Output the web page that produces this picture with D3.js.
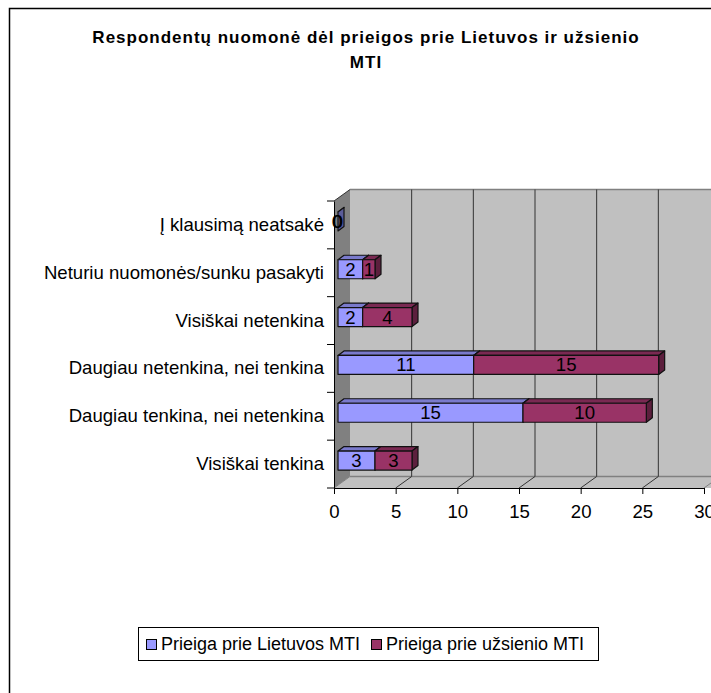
<!DOCTYPE html>
<html>
<head>
<meta charset="utf-8">
<script src="https://cdn.jsdelivr.net/npm/d3@7"></script>
<style>
  html, body { margin: 0; padding: 0; background: #fff; }
  svg { display: block; }
  text { font-family: "Liberation Sans", Arial, sans-serif; fill: #000; }
</style>
</head>
<body>
<svg id="chart" width="711" height="693"></svg>
<script>
const categories = [
    'Visiškai tenkina',
    'Daugiau tenkina, nei netenkina',
    'Daugiau netenkina, nei tenkina',
    'Visiškai netenkina',
    'Neturiu nuomonės/sunku pasakyti',
    'Į klausimą neatsakė'
];
const lietuvos = [3, 15, 11, 2, 2, 0];
const uzsienio = [3, 10, 15, 4, 1, 0];
const seriesNames = ['Prieiga prie Lietuvos MTI', 'Prieiga prie užsienio MTI'];
const xTicks = [0, 5, 10, 15, 20, 25, 30];
const titleLines = ['Respondentų nuomonė dėl prieigos prie Lietuvos ir užsienio', 'MTI'];

const colors = [
    { front: '#9999ff', top: '#7a7acc', side: '#5c5c99' },
    { front: '#993366', top: '#7a2952', side: '#5c1f3d' }
];

// wall depth and bar depth of the fake 3d
const wallDx = 16, wallDy = 11.5;
const barDx = 6, barDy = 4.5, barH = 19;
const barShiftX = 4, barShiftY = -3.5;
const labelSize = 18.6;

const x = d3.scaleLinear().domain([0, 30]).range([334, 704]);
const y = d3.scaleBand().domain(categories).range([488, 201]);

const svg = d3.select('#chart');

// chart frame, open on the right and bottom like the cropped original
svg.append('path')
   .attr('d', 'M9.5,693V8.5H711')
   .attr('fill', 'none')
   .attr('stroke', '#000')
   .attr('stroke-width', 1.5);

// title
svg.append('g').selectAll('text').data(titleLines).join('text')
   .attr('x', 366)
   .attr('y', (d, i) => 43 + i * 24.5)
   .attr('text-anchor', 'middle')
   .attr('font-size', 17)
   .attr('font-weight', 'bold')
   .attr('letter-spacing', 1)
   .text((d) => d);

// walls
const x0 = x(0), yTop = y.range()[1], yBottom = y.range()[0];
svg.append('polygon')
   .attr('points', [[x0 + wallDx, yTop - wallDy], [730, yTop - wallDy], [730, yBottom - wallDy], [x0 + wallDx, yBottom - wallDy]].join(' '))
   .attr('fill', '#c0c0c0');
svg.append('polygon')
   .attr('points', [[x0, yTop], [x0 + wallDx, yTop - wallDy], [x0 + wallDx, yBottom - wallDy], [x0, yBottom]].join(' '))
   .attr('fill', '#808080');
svg.append('polygon')
   .attr('points', [[x0, yBottom], [x0 + wallDx, yBottom - wallDy], [730, yBottom - wallDy], [730 - wallDx, yBottom]].join(' '))
   .attr('fill', '#c0c0c0');

// edges of the back wall
svg.append('path')
   .attr('d', `M${x0 + wallDx},${yTop - wallDy}H711M${x0 + wallDx},${yBottom - wallDy}H711`)
   .attr('stroke', '#808080')
   .attr('stroke-width', 1.5)
   .attr('fill', 'none');

// gridlines on the back wall and across the floor
const grid = svg.append('g');
xTicks.forEach((t) => {
    if (t > 0) {
        grid.append('line')
            .attr('x1', x(t) + wallDx).attr('x2', x(t) + wallDx)
            .attr('y1', yTop - wallDy).attr('y2', yBottom - wallDy)
            .attr('stroke', '#333');
        grid.append('line')
            .attr('x1', x(t)).attr('x2', x(t) + wallDx)
            .attr('y1', yBottom).attr('y2', yBottom - wallDy)
            .attr('stroke', t === 30 ? '#808080' : '#333');
    }
});
svg.append('line')
   .attr('x1', x0).attr('x2', x0 + wallDx)
   .attr('y1', yBottom).attr('y2', yBottom - wallDy)
   .attr('stroke', '#808080');
svg.append('line')
   .attr('x1', x0).attr('x2', x0 + wallDx)
   .attr('y1', yTop).attr('y2', yTop - wallDy)
   .attr('stroke', '#333');

// axes
const xAxis = svg.append('g')
   .attr('transform', `translate(0,${yBottom})`)
   .call(d3.axisBottom(x).tickValues(xTicks).tickSize(6).tickPadding(11).tickSizeOuter(0));
xAxis.selectAll('text').attr('font-size', labelSize).attr('font-family', null);

const yAxis = svg.append('g')
   .attr('transform', `translate(${x0},0)`)
   .call(d3.axisLeft(y).tickSize(0).tickPadding(10));
yAxis.selectAll('text')
   .attr('font-size', labelSize)
   .attr('font-family', null);

// category ticks sit between the bands, so they do not come from the axis
svg.append('g').selectAll('line').data(d3.range(categories.length + 1)).join('line')
   .attr('x1', x0 - 7).attr('x2', x0)
   .attr('y1', (i) => yBottom - i * y.step())
   .attr('y2', (i) => yBottom - i * y.step())
   .attr('stroke', '#000');

// stacked 3d bars, top band first so that lower ones overlap correctly
const rows = categories.map((c, i) => ({ c, a: lietuvos[i], b: uzsienio[i] })).reverse();
const bars = svg.append('g');
const labels = svg.append('g');

rows.forEach((row) => {
    const by = y(row.c) + y.bandwidth() / 2 + barShiftY - barH / 2;
    const parts = [
        { from: 0, to: row.a, col: colors[0] },
        { from: row.a, to: row.a + row.b, col: colors[1] }
    ];
    parts.forEach((p, i) => {
        const xa = x(p.from) + barShiftX, xb = x(p.to) + barShiftX;
        const stroke = { stroke: '#111', 'stroke-width': 1.2, 'stroke-linejoin': 'round' };
        const face = (pts, fill) => {
            const f = bars.append('polygon').attr('points', pts.join(' ')).attr('fill', fill);
            Object.entries(stroke).forEach(([k, v]) => f.attr(k, v));
        };
        // an empty row only shows the blue sliver in the original
        if (!(i === 1 && p.to === 0)) {
            face([[xa, by], [xa + barDx, by - barDy], [xb + barDx, by - barDy], [xb, by]], p.col.top);
            face([[xb, by], [xb + barDx, by - barDy], [xb + barDx, by + barH - barDy], [xb, by + barH]], p.col.side);
        }
        if (p.to > p.from) {
            face([[xa, by], [xb, by], [xb, by + barH], [xa, by + barH]], p.col.front);
        }
        labels.append('text')
            .attr('x', (xa + xb) / 2 - (p.to === 0 ? i : 0))
            .attr('y', by + barH / 2 + 6.5)
            .attr('text-anchor', 'middle')
            .attr('font-size', labelSize)
            .text(p.to - p.from);
    });
});

// legend
const legend = svg.append('g');
legend.append('rect')
   .attr('x', 138.5).attr('y', 627.5)
   .attr('width', 460).attr('height', 33)
   .attr('fill', '#fff').attr('stroke', '#000');
const legendX = [146, 371];
seriesNames.forEach((name, i) => {
    legend.append('rect')
        .attr('x', legendX[i] + 0.5).attr('y', 639.5)
        .attr('width', 10).attr('height', 10)
        .attr('fill', colors[i].front).attr('stroke', '#000');
    legend.append('text')
        .attr('x', legendX[i] + 15)
        .attr('y', 650)
        .attr('font-size', 18)
        .text(name);
});
</script>
</body>
</html>
